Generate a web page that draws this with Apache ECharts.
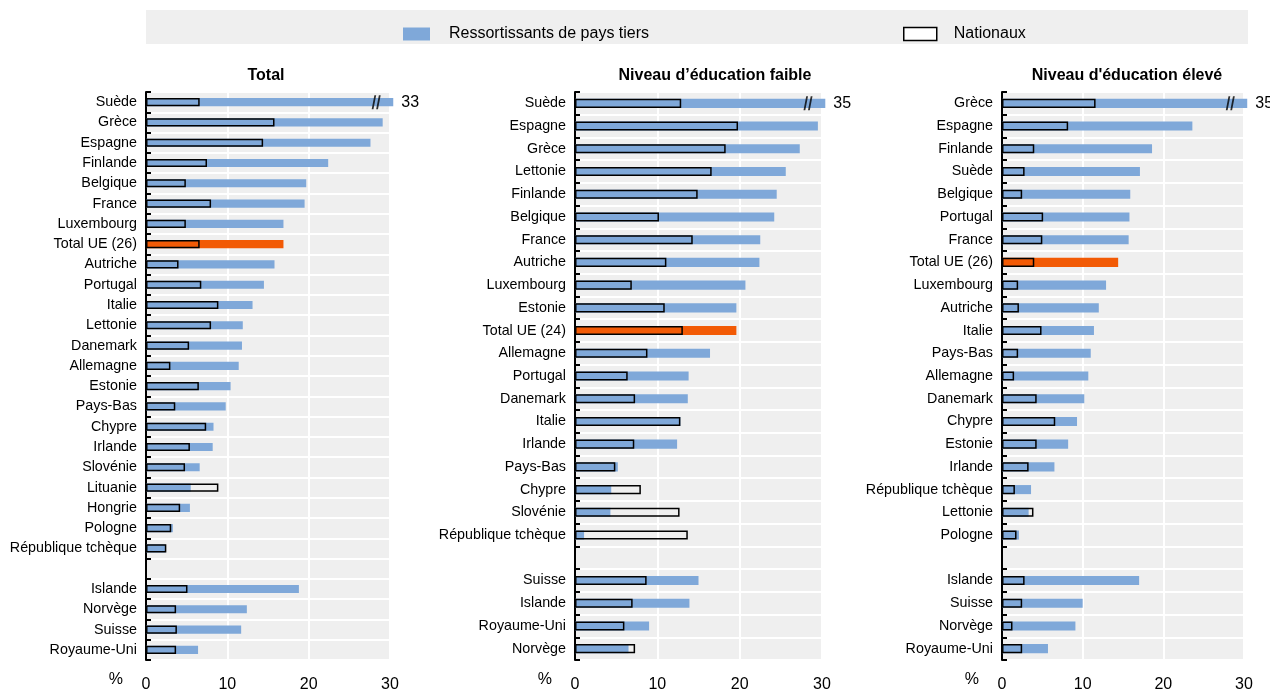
<!DOCTYPE html>
<html>
<head>
<meta charset="utf-8">
<script src="https://cdn.jsdelivr.net/npm/echarts@6/dist/echarts.min.js"></script>
<style>
  html, body { margin: 0; padding: 0; background: #fff; }
  #chart { width: 1270px; height: 693px; }
</style>
</head>
<body>
<div id="chart"></div>
<script>
// Panneau 1 : Total
const catTotal = ['Suède', 'Grèce', 'Espagne', 'Finlande', 'Belgique', 'France', 'Luxembourg', 'Total UE (26)',
  'Autriche', 'Portugal', 'Italie', 'Lettonie', 'Danemark', 'Allemagne', 'Estonie', 'Pays-Bas', 'Chypre',
  'Irlande', 'Slovénie', 'Lituanie', 'Hongrie', 'Pologne', 'République tchèque', '',
  'Islande', 'Norvège', 'Suisse', 'Royaume-Uni']
const tiersTotal = [33, 29.1, 27.6, 22.4, 19.7, 19.5, 16.9, 16.9,
  15.8, 14.5, 13.1, 11.9, 11.8, 11.4, 10.4, 9.8, 8.3,
  8.2, 6.6, 5.5, 5.4, 3.3, 2.4, null,
  18.8, 12.4, 11.7, 6.4]
const natTotal = [6.6, 15.8, 14.4, 7.5, 4.9, 8.0, 4.9, 6.6,
  4.0, 6.8, 8.9, 8.0, 5.3, 3.0, 6.5, 3.6, 7.4,
  5.4, 4.8, 8.9, 4.2, 3.1, 2.5, null,
  5.1, 3.7, 3.8, 3.7]

// Panneau 2 : Niveau d'éducation faible
const catFaible = ['Suède', 'Espagne', 'Grèce', 'Lettonie', 'Finlande', 'Belgique', 'France', 'Autriche',
  'Luxembourg', 'Estonie', 'Total UE (24)', 'Allemagne', 'Portugal', 'Danemark', 'Italie', 'Irlande',
  'Pays-Bas', 'Chypre', 'Slovénie', 'République tchèque', '',
  'Suisse', 'Islande', 'Royaume-Uni', 'Norvège']
const tiersFaible = [35, 29.5, 27.3, 25.6, 24.5, 24.2, 22.5, 22.4,
  20.7, 19.6, 19.6, 16.4, 13.8, 13.7, 12.8, 12.4,
  5.2, 4.4, 4.3, 1.1, null,
  15.0, 13.9, 9.0, 6.5]
const natFaible = [12.9, 19.8, 18.3, 16.6, 14.9, 10.2, 14.3, 11.1,
  6.9, 10.9, 13.1, 8.8, 6.4, 7.3, 12.8, 7.2,
  4.9, 8.0, 12.7, 13.7, null,
  8.7, 7.0, 6.0, 7.3]

// Panneau 3 : Niveau d'éducation élevé
const catEleve = ['Grèce', 'Espagne', 'Finlande', 'Suède', 'Belgique', 'Portugal', 'France', 'Total UE (26)',
  'Luxembourg', 'Autriche', 'Italie', 'Pays-Bas', 'Allemagne', 'Danemark', 'Chypre', 'Estonie',
  'Irlande', 'République tchèque', 'Lettonie', 'Pologne', '',
  'Islande', 'Suisse', 'Norvège', 'Royaume-Uni']
const tiersEleve = [35, 23.6, 18.6, 17.1, 15.9, 15.8, 15.7, 14.4,
  12.9, 12.0, 11.4, 11.0, 10.7, 10.2, 9.3, 8.2,
  6.5, 3.6, 3.3, 2.1, null,
  17.0, 10.0, 9.1, 5.7]
const natEleve = [11.6, 8.2, 4.0, 2.8, 2.5, 5.1, 5.0, 4.0,
  2.0, 2.1, 4.9, 2.0, 1.5, 4.3, 6.6, 4.3,
  3.3, 1.6, 3.9, 1.8, null,
  2.8, 2.5, 1.3, 2.5]

const panelTitles = ['Total', 'Niveau d\u2019éducation faible', 'Niveau d\'éducation élevé']
const xTicks = [0, 10, 20, 30]

const FONT = '"Liberation Sans", Arial, sans-serif'
const BLUE = '#7fa8d9'
const ORANGE = '#f25a05'
const BG = '#efefef'
const AXIS_MAX = 30
const CAP = 30.4   // barres tronquées au-delà de l'axe
const BREAK_AT = 28.3

const panels = [
  { cats: catTotal, tiers: tiersTotal, nat: natTotal, left: 146, width: 244, titleX: 266 },
  { cats: catFaible, tiers: tiersFaible, nat: natFaible, left: 575, width: 247, titleX: 715 },
  { cats: catEleve, tiers: tiersEleve, nat: natEleve, left: 1002, width: 242, titleX: 1127 }
]

const grids = []
const xAxes = []
const yAxes = []
const series = []
const titles = []

panels.forEach((p, i) => {
  grids.push({
    left: p.left, width: p.width, top: 92, height: 568,
    show: true, backgroundColor: BG, borderWidth: 0, containLabel: false
  })
  xAxes.push({
    type: 'value', gridIndex: i, min: xTicks[0], max: AXIS_MAX, interval: 10,
    axisLine: { show: false }, axisTick: { show: false },
    axisLabel: { color: '#000', fontSize: 16, fontFamily: FONT, margin: 17 },
    splitLine: { show: true, lineStyle: { color: '#fff', width: 2 } },
    name: '%', nameLocation: 'start', nameGap: 23,
    nameTextStyle: { color: '#000', fontSize: 16, fontFamily: FONT, verticalAlign: 'top', padding: [12, 0, 0, 0] }
  })
  yAxes.push({
    type: 'category', gridIndex: i, data: p.cats, inverse: true,
    axisLine: { show: true, lineStyle: { color: '#000', width: 2 } },
    axisTick: { show: true, inside: true, length: 5, lineStyle: { color: '#000', width: 2 } },
    axisLabel: { color: '#000', fontSize: 14.3, fontFamily: FONT, margin: 9 },
    splitLine: { show: true, lineStyle: { color: '#fff', width: 2 } }
  })
  titles.push({
    text: panelTitles[i], left: p.titleX - 5, top: 63, textAlign: 'center',
    textStyle: { fontFamily: FONT, fontSize: 16, fontWeight: 'bold', color: '#000' }
  })

  const tiersData = p.tiers.map((v, k) => {
    if (v == null) return null
    const item = { value: Math.min(v, CAP) }
    if (p.cats[k].startsWith('Total UE')) item.itemStyle = { color: ORANGE }
    if (v > AXIS_MAX) {
      item.label = {
        show: true, position: 'right', distance: 8, formatter: String(v),
        color: '#000', fontSize: 16, fontFamily: FONT
      }
    }
    return item
  })

  series.push({
    name: 'Ressortissants de pays tiers', type: 'bar', xAxisIndex: i, yAxisIndex: i,
    data: tiersData, barWidth: '40%', clip: false,
    itemStyle: { color: BLUE }
  })
  series.push({
    name: 'Nationaux', type: 'bar', xAxisIndex: i, yAxisIndex: i,
    data: p.nat, barWidth: '40%', barGap: '-100%',
    itemStyle: { color: 'rgba(0,0,0,0)', borderColor: '#000', borderWidth: 1.5 }
  })

  // marque de rupture "//" sur les barres qui dépassent l'axe
  const breaks = []
  p.tiers.forEach((v, k) => { if (v != null && v > AXIS_MAX) breaks.push([BREAK_AT, p.cats[k]]) })
  series.push({
    type: 'scatter', xAxisIndex: i, yAxisIndex: i, data: breaks, silent: true, z: 5,
    symbol: 'path://M3,0 L5,0 L2,14 L0,14 Z M8,0 L10,0 L7,14 L5,14 Z',
    symbolSize: [9, 14], itemStyle: { color: '#000' }
  })
})

const chart = echarts.init(document.getElementById('chart'))
chart.setOption({
  animation: false,
  textStyle: { fontFamily: FONT },
  title: titles,
  graphic: [{
    type: 'rect', left: 146, top: 10, z: -1,
    shape: { width: 1102, height: 34 },
    style: { fill: BG }
  }],
  legend: [
    {
      data: [{ name: 'Ressortissants de pays tiers', icon: 'rect' }],
      left: 398, top: 21, itemWidth: 27, itemHeight: 13,
      textStyle: { fontSize: 16, fontFamily: FONT, color: '#000', padding: [0, 0, 0, 14] }
    },
    {
      data: [{ name: 'Nationaux', icon: 'rect', itemStyle: { color: '#fff', borderColor: '#000', borderWidth: 1.5 } }],
      left: 898, top: 21, itemWidth: 33, itemHeight: 13,
      textStyle: { fontSize: 16, fontFamily: FONT, color: '#000', padding: [0, 0, 0, 12] }
    }
  ],
  grid: grids,
  xAxis: xAxes,
  yAxis: yAxes,
  series: series
})
</script>
</body>
</html>
